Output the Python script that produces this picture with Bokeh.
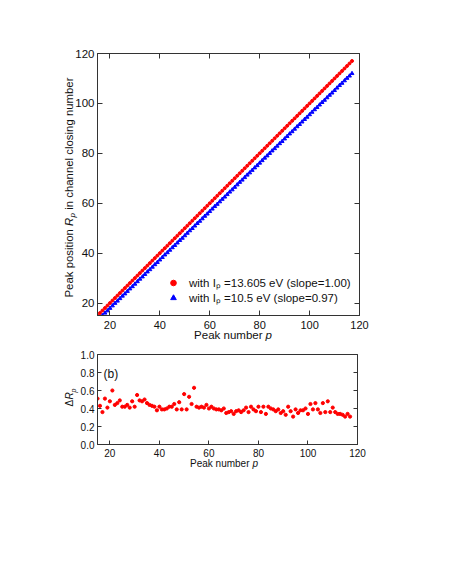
import math
from bokeh.plotting import figure
from bokeh.layouts import column
from bokeh.models import (Range1d, LinearAxis, FixedTicker, Label, CustomJSTickFormatter,
                          PrintfTickFormatter, Legend, LegendItem)
from bokeh.embed import file_html
from bokeh.resources import INLINE

# ---------------- data ----------------
peak_number = [15, 16, 17, 18, 19, 20, 21, 22, 23, 24, 25, 26, 27, 28, 29, 30, 31, 32, 33, 34,
               35, 36, 37, 38, 39, 40, 41, 42, 43, 44, 45, 46, 47, 48, 49, 50, 51, 52, 53, 54,
               55, 56, 57, 58, 59, 60, 61, 62, 63, 64, 65, 66, 67, 68, 69, 70, 71, 72, 73, 74,
               75, 76, 77, 78, 79, 80, 81, 82, 83, 84, 85, 86, 87, 88, 89, 90, 91, 92, 93, 94,
               95, 96, 97, 98, 99, 100, 101, 102, 103, 104, 105, 106, 107, 108, 109, 110, 111,
               112, 113, 114, 115, 116, 117]

rp_ip13605 = [15, 16, 17, 18, 19, 20, 21, 22, 23, 24, 25, 26, 27, 28, 29, 30, 31, 32, 33, 34,
              35, 36, 37, 38, 39, 40, 41, 42, 43, 44, 45, 46, 47, 48, 49, 50, 51, 52, 53, 54,
              55, 56, 57, 58, 59, 60, 61, 62, 63, 64, 65, 66, 67, 68, 69, 70, 71, 72, 73, 74,
              75, 76, 77, 78, 79, 80, 81, 82, 83, 84, 85, 86, 87, 88, 89, 90, 91, 92, 93, 94,
              95, 96, 97, 98, 99, 100, 101, 102, 103, 104, 105, 106, 107, 108, 109, 110, 111,
              112, 113, 114, 115, 116, 117]

peak_number_b = [17, 18, 19, 20, 21, 22, 23, 24, 25, 26, 27, 28, 29, 30, 31, 32, 33, 34,
                 35, 36, 37, 38, 39, 40, 41, 42, 43, 44, 45, 46, 47, 48, 49, 50, 51, 52, 53, 54,
                 55, 56, 57, 58, 59, 60, 61, 62, 63, 64, 65, 66, 67, 68, 69, 70, 71, 72, 73, 74,
                 75, 76, 77, 78, 79, 80, 81, 82, 83, 84, 85, 86, 87, 88, 89, 90, 91, 92, 93, 94,
                 95, 96, 97, 98, 99, 100, 101, 102, 103, 104, 105, 106, 107, 108, 109, 110, 111,
                 112, 113, 114, 115, 116, 117]

rp_ip105 = [15.0, 16.0, 16.9, 17.9, 18.9, 19.9, 20.8, 21.8, 22.8, 23.7,
            24.7, 25.7, 26.6, 27.6, 28.6, 29.6, 30.5, 31.5, 32.5, 33.4,
            34.4, 35.4, 36.3, 37.3, 38.3, 39.3, 40.2, 41.2, 42.2, 43.1,
            44.1, 45.1, 46.0, 47.0, 48.0, 49.0, 49.9, 50.9, 51.9, 52.8,
            53.8, 54.8, 55.7, 56.7, 57.7, 58.7, 59.6, 60.6, 61.6, 62.5,
            63.5, 64.5, 65.4, 66.4, 67.4, 68.4, 69.3, 70.3, 71.3, 72.2,
            73.2, 74.2, 75.1, 76.1, 77.1, 78.1, 79.0, 80.0, 81.0, 81.9,
            82.9, 83.9, 84.8, 85.8, 86.8, 87.8, 88.7, 89.7, 90.7, 91.6,
            92.6, 93.6, 94.5, 95.5, 96.5, 97.5, 98.4, 99.4, 100.4, 101.3,
            102.3, 103.3, 104.2, 105.2, 106.2, 107.2, 108.1, 109.1, 110.1, 111.0,
            112.0]

delta_rp = [0.51, 0.43, 0.36, 0.51, 0.41, 0.48, 0.60, 0.44, 0.46, 0.49,
            0.42, 0.42, 0.44, 0.41, 0.48, 0.42, 0.55, 0.49, 0.48, 0.50,
            0.46, 0.44, 0.43, 0.42, 0.38, 0.42, 0.39, 0.39, 0.40, 0.42,
            0.42, 0.45, 0.39, 0.47, 0.39, 0.56, 0.39, 0.53, 0.45, 0.63,
            0.42, 0.41, 0.42, 0.41, 0.44, 0.40, 0.42, 0.40, 0.39, 0.39,
            0.38, 0.40, 0.35, 0.36, 0.37, 0.34, 0.37, 0.38, 0.36, 0.38,
            0.41, 0.36, 0.42, 0.39, 0.37, 0.42, 0.36, 0.42, 0.34, 0.42,
            0.40, 0.39, 0.37, 0.39, 0.35, 0.37, 0.33, 0.42, 0.37, 0.31,
            0.39, 0.35, 0.38, 0.38, 0.40, 0.34, 0.45, 0.39, 0.46, 0.39,
            0.35, 0.46, 0.36, 0.48, 0.36, 0.41, 0.36, 0.34, 0.34, 0.33,
            0.31, 0.34, 0.31]

x_ticks = [20, 40, 60, 80, 100, 120]
y_ticks_top = [20, 40, 60, 80, 100, 120]
y_ticks_bottom = [0.0, 0.2, 0.4, 0.6, 0.8, 1.0]

legend_labels = ["with I\u209a =13.605 eV (slope=1.00)", "with I\u209a =10.5 eV (slope=0.97)"]

# ---------------- style ----------------
FONT = "Liberation Sans"
AXC = "#333333"
RED = "#ff0000"
BLUE = "#0000ff"

TOP_BL, TOP_BT, TOP_FW, TOP_FH, TOP_BB = 97, 53, 262, 262, 35
BOT_BT, BOT_FW, BOT_FH = 4, 260, 90
TOP_FRAME_L = TOP_BL
TOP_FRAME_T = TOP_BT
TOP_FRAME_B = TOP_FRAME_T + TOP_FH
BOT_FRAME_T = TOP_BT + TOP_FH + TOP_BB + BOT_BT
BOT_FRAME_B = BOT_FRAME_T + BOT_FH


def tx(px):
    return 15 + (px - TOP_FRAME_L) * 105.0 / TOP_FW


def ty(py):
    return 15 + (TOP_FRAME_B - py) * 105.0 / TOP_FH


def bx(px):
    return 15 + (px - TOP_FRAME_L) * 105.0 / BOT_FW


def by(py):
    return (BOT_FRAME_B - py) / float(BOT_FH)


def style_axis(ax, ticks, fs, standoff, tick_len, show_labels=True, fmt=None):
    ax.ticker = FixedTicker(ticks=ticks)
    ax.major_tick_in = tick_len
    ax.major_tick_out = 0
    ax.minor_tick_in = 0
    ax.minor_tick_out = 0
    ax.axis_line_color = AXC
    ax.axis_line_width = 1
    ax.major_tick_line_color = AXC
    ax.major_tick_line_width = 1
    ax.major_label_text_font = FONT
    ax.major_label_text_font_size = fs
    ax.major_label_text_color = "#111111"
    ax.major_label_standoff = standoff
    if fmt is not None:
        ax.formatter = fmt
    if not show_labels:
        ax.formatter = CustomJSTickFormatter(code="return ''")
        ax.major_label_text_font_size = "0px"


def add_label(p, place, x, y, text, size, style="normal", align="left", angle=0.0,
              baseline="middle"):
    lab = Label(x=x, y=y, x_units="data", y_units="data", text=text,
                text_font=FONT, text_font_size=size, text_font_style=style,
                text_align=align, text_baseline=baseline, angle=angle,
                text_color="#111111")
    p.add_layout(lab, place)


# ---------------- top panel ----------------
top = figure(frame_width=TOP_FW, frame_height=TOP_FH,
             x_range=Range1d(15, 120), y_range=Range1d(15, 120),
             output_backend="svg", toolbar_location=None,
             min_border_left=TOP_BL, min_border_top=TOP_BT, min_border_right=82,
             min_border_bottom=TOP_BB, background_fill_color="white",
             border_fill_color="white")
top.xgrid.visible = False
top.ygrid.visible = False
top.outline_line_color = AXC
style_axis(top.xaxis[0], x_ticks, "11px", 5, 5)
style_axis(top.yaxis[0], y_ticks_top, "11.5px", 3, 5)
ax_r = LinearAxis()
style_axis(ax_r, y_ticks_top, "11px", 0, 5, show_labels=False)
top.add_layout(ax_r, "right")
ax_t = LinearAxis()
style_axis(ax_t, x_ticks, "11px", 0, 5, show_labels=False)
top.add_layout(ax_t, "above")

r_red = top.scatter(peak_number, rp_ip13605, marker="circle", size=3.0,
                    fill_color=RED, line_color=RED)
r_blue = top.scatter(peak_number_b, rp_ip105, marker="triangle", size=3.8,
                     fill_color=BLUE, line_color=BLUE)

legend = Legend(items=[LegendItem(label=legend_labels[0], renderers=[r_red]),
                       LegendItem(label=legend_labels[1], renderers=[r_blue])],
                location=(69, 10), orientation="vertical", padding=0, margin=0,
                spacing=0, glyph_width=14, glyph_height=15, label_height=15,
                label_standoff=9, label_text_font=FONT, label_text_font_size="11.5px",
                label_text_color="#111111", border_line_color=None,
                background_fill_alpha=0)
top.add_layout(legend)

# axis titles (top), placed in the side panels so they are not clipped
add_label(top, "right", tx(262), ty(334.5), "Peak number", "11.5px", align="right")
add_label(top, "right", tx(265), ty(334.5), "p", "11.5px", style="italic")
add_label(top, "left", tx(68), ty(297), "Peak position", "11.4px", angle=math.pi / 2)
add_label(top, "left", tx(68), ty(225.5), "R", "11.4px", style="italic", angle=math.pi / 2)
add_label(top, "left", tx(72.2), ty(217), "p", "8px", style="italic", angle=math.pi / 2)
add_label(top, "left", tx(68), ty(77), "in channel closing number", "11.4px",
          align="right", angle=math.pi / 2)

# ---------------- bottom panel ----------------
bot = figure(frame_width=BOT_FW, frame_height=BOT_FH,
             x_range=Range1d(15, 120), y_range=Range1d(0, 1),
             output_backend="svg", toolbar_location=None,
             min_border_left=TOP_BL, min_border_top=BOT_BT, min_border_right=84,
             min_border_bottom=60, background_fill_color="white",
             border_fill_color="white")
bot.xgrid.visible = False
bot.ygrid.visible = False
bot.outline_line_color = AXC
style_axis(bot.xaxis[0], x_ticks, "10px", 4, 4)
style_axis(bot.yaxis[0], y_ticks_bottom, "10px", 3, 4, fmt=PrintfTickFormatter(format="%.1f"))
bax_r = LinearAxis()
style_axis(bax_r, y_ticks_bottom, "10px", 0, 4, show_labels=False)
bot.add_layout(bax_r, "right")

bot.scatter(peak_number, delta_rp, marker="circle", size=3.2, fill_color=RED, line_color=RED)

add_label(bot, "center", bx(103), by(373), "(b)", "12px", baseline="alphabetic")
add_label(bot, "right", bx(249), by(462.5), "Peak number", "10px", align="right")
add_label(bot, "right", bx(252), by(462.5), "p", "10px", style="italic")
add_label(bot, "left", bx(68.5), by(406), "\u0394", "10px", angle=math.pi / 2)
add_label(bot, "left", bx(68.5), by(399), "R", "10px", style="italic", angle=math.pi / 2)
add_label(bot, "left", bx(72.5), by(392), "p", "7px", style="italic", angle=math.pi / 2)

layout = column(top, bot, spacing=0)
open("out.html", "w").write(file_html(layout, INLINE))
